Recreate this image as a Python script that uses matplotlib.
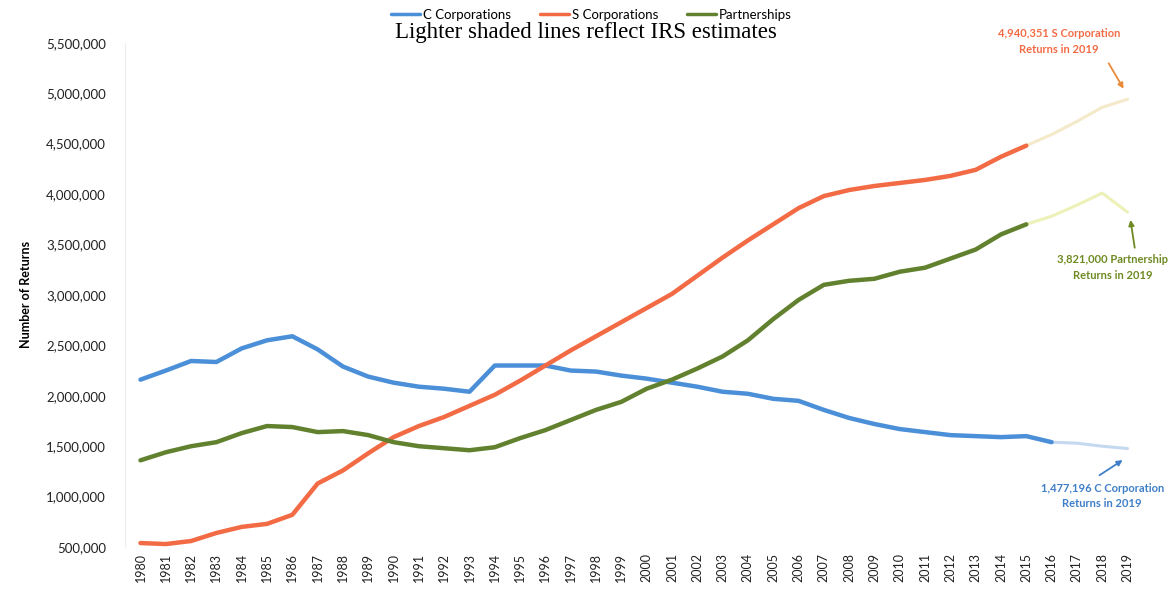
import numpy as np
import matplotlib.pyplot as plt
from matplotlib.ticker import FuncFormatter, MultipleLocator

YEARS = list(range(1980, 2020))

C_CORP = [2160000, 2250000, 2345000, 2335000, 2470000, 2550000, 2590000, 2460000,
          2290000, 2190000, 2130000, 2090000, 2070000, 2040000, 2300000, 2300000,
          2300000, 2250000, 2240000, 2200000, 2170000, 2130000, 2090000, 2040000,
          2020000, 1970000, 1950000, 1860000, 1780000, 1720000, 1670000, 1640000,
          1610000, 1600000, 1590000, 1600000, 1540000, 1530000, 1500000, 1477196]
S_CORP = [540000, 530000, 560000, 640000, 700000, 730000, 820000, 1130000,
          1260000, 1430000, 1590000, 1700000, 1790000, 1900000, 2010000, 2150000,
          2300000, 2450000, 2590000, 2730000, 2870000, 3010000, 3190000, 3370000,
          3540000, 3700000, 3860000, 3980000, 4040000, 4080000, 4110000, 4140000,
          4180000, 4240000, 4370000, 4480000, 4590000, 4720000, 4860000, 4940351]
PARTNER = [1360000, 1440000, 1500000, 1540000, 1630000, 1700000, 1690000, 1640000,
           1650000, 1610000, 1540000, 1500000, 1480000, 1460000, 1490000, 1580000,
           1660000, 1760000, 1860000, 1940000, 2070000, 2160000, 2270000, 2390000,
           2550000, 2760000, 2950000, 3100000, 3140000, 3160000, 3230000, 3270000,
           3360000, 3450000, 3600000, 3700000, 3780000, 3890000, 4010000, 3821000]

# last year of actual (non-estimated) data for each series
C_LAST = 2016
S_LAST = 2015
P_LAST = 2015

C_COL, C_LIGHT = '#4a8fd8', '#c4d9f0'
S_COL, S_LIGHT = '#f26b45', '#f4e9c8'
P_COL, P_LIGHT = '#62812f', '#edf1b8'

plt.rcParams['font.family'] = ['Lato', 'DejaVu Sans']

fig = plt.figure(figsize=(11.71, 5.94), dpi=100)
ax = fig.add_axes([0.107, 0.079, 0.871, 0.849])

yrs = np.array(YEARS)


def draw(vals, last, col, light, label):
    vals = np.array(vals)
    i = YEARS.index(last)
    ax.plot(yrs[i:], vals[i:], color=light, lw=2.2, solid_capstyle='round', zorder=2)
    ax.plot(yrs[:i + 1], vals[:i + 1], color=col, lw=3.2, solid_capstyle='round',
            zorder=3, label=label)


draw(C_CORP, C_LAST, C_COL, C_LIGHT, 'C Corporations')
draw(S_CORP, S_LAST, S_COL, S_LIGHT, 'S Corporations')
draw(PARTNER, P_LAST, P_COL, P_LIGHT, 'Partnerships')

ax.set_xlim(1979.4, 2019.7)
ax.set_ylim(500000, 5500000)
ax.yaxis.set_major_locator(MultipleLocator(500000))
ax.yaxis.set_major_formatter(FuncFormatter(lambda v, p: '{:,.0f}'.format(v)))
ax.set_xticks(YEARS)
ax.set_xticklabels([str(y) for y in YEARS], rotation=90, fontsize=9, color='#222222')
ax.tick_params(axis='y', labelsize=9.5, labelcolor='#222222', length=0, pad=14)
ax.tick_params(axis='x', length=0, pad=4)
for s in ['top', 'right', 'bottom']:
    ax.spines[s].set_visible(False)
ax.spines['left'].set_color('#eeeeee')
ax.set_ylabel('Number of Returns', fontsize=9, fontweight='bold', labelpad=10)

leg = fig.legend(loc='upper center', bbox_to_anchor=(0.505, 1.005), ncol=3, frameon=False,
                 fontsize=9.5, handlelength=2.2, handletextpad=0.2, columnspacing=2.2)
for h in leg.get_lines():
    h.set_linewidth(2.5)
fig.text(0.5, 0.945, 'Lighter shaded lines reflect IRS estimates', ha='center',
         va='center', fontsize=16.5, family=['Liberation Serif', 'DejaVu Serif'])

ann = dict(fontsize=8, fontweight='bold', ha='center', va='center', linespacing=1.5)
ax.text(2016.3, S_CORP[-1] + 570000,
        '{:,} S Corporation\nReturns in 2019'.format(S_CORP[-1]), color=S_COL, **ann)
ax.annotate('', xy=(2018.9, S_CORP[-1] + 80000), xytext=(2018.2, S_CORP[-1] + 380000),
            arrowprops=dict(arrowstyle='-|>', color='#e98a3a', lw=1.3, mutation_scale=8))
ax.text(2018.4, PARTNER[-1] - 550000,
        '{:,} Partnership\nReturns in 2019'.format(PARTNER[-1]), color='#6e8a22', **ann)
ax.annotate('', xy=(2019.1, PARTNER[-1] - 50000), xytext=(2019.3, PARTNER[-1] - 380000),
            arrowprops=dict(arrowstyle='-|>', color='#6e8a22', lw=1.3, mutation_scale=8))
ax.text(2018.0, C_CORP[-1] - 470000,
        '{:,} C Corporation\nReturns in 2019'.format(C_CORP[-1]), color='#3f7fc8', **ann)
ax.annotate('', xy=(2018.9, C_CORP[-1] - 100000), xytext=(2017.8, C_CORP[-1] - 280000),
            arrowprops=dict(arrowstyle='-|>', color='#3f7fc8', lw=1.3, mutation_scale=8))

plt.savefig('out.png', dpi=100)
